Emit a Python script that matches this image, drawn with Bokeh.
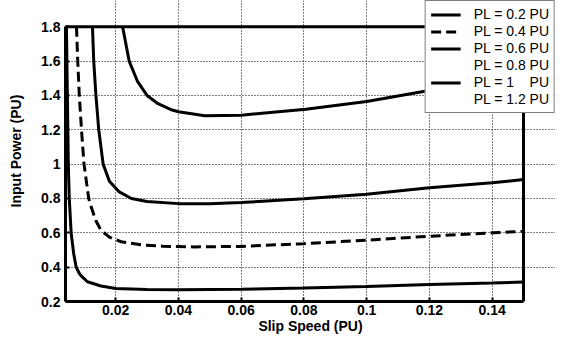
from bokeh.plotting import figure
from bokeh.models import (Legend, LegendItem, FixedTicker, CustomJSTickFormatter, Range1d,
                          BoxAnnotation)
from bokeh.embed import file_html
from bokeh.resources import INLINE

# ---- data ----
pl02_x = [0.0043, 0.0046, 0.0049, 0.0052, 0.0058, 0.0066, 0.0074, 0.0085, 0.0095, 0.011, 0.0153,
          0.02, 0.03, 0.04, 0.06, 0.08, 0.10, 0.12, 0.14, 0.15]
pl02_y = [1.80, 1.40, 1.00, 0.80, 0.60, 0.48, 0.40, 0.36, 0.34, 0.315, 0.29,
          0.276, 0.270, 0.269, 0.271, 0.278, 0.288, 0.299, 0.308, 0.313]

pl04_x = [0.0075, 0.0079, 0.0084, 0.0091, 0.0099, 0.0114, 0.0122, 0.0137, 0.0153, 0.018, 0.0217,
          0.028, 0.035, 0.045, 0.06, 0.08, 0.10, 0.12, 0.14, 0.15]
pl04_y = [1.80, 1.60, 1.40, 1.20, 1.00, 0.80, 0.75, 0.67, 0.615, 0.575, 0.548,
          0.530, 0.522, 0.518, 0.521, 0.537, 0.557, 0.580, 0.600, 0.608]

pl06_x = [0.0126, 0.0130, 0.0137, 0.0146, 0.0160, 0.018, 0.021, 0.025, 0.030, 0.040, 0.050,
          0.060, 0.080, 0.100, 0.120, 0.140, 0.150]
pl06_y = [1.80, 1.60, 1.40, 1.20, 1.00, 0.90, 0.84, 0.80, 0.782, 0.770, 0.770,
          0.776, 0.798, 0.825, 0.863, 0.891, 0.910]

pl1_x = [0.0222, 0.0243, 0.027, 0.030, 0.0335, 0.038, 0.040, 0.0484, 0.060, 0.0806, 0.100,
         0.119, 0.135, 0.150]
pl1_y = [1.80, 1.60, 1.48, 1.40, 1.352, 1.315, 1.305, 1.282, 1.285, 1.320, 1.365,
         1.426, 1.475, 1.520]

legend_labels = ["PL = 0.2 PU", "PL = 0.4 PU", "PL = 0.6 PU", "PL = 0.8 PU", "PL = 1    PU", "PL = 1.2 PU"]
x_ticks = [0.02, 0.04, 0.06, 0.08, 0.10, 0.12, 0.14]
y_ticks = [0.2, 0.4, 0.6, 0.8, 1.0, 1.2, 1.4, 1.6, 1.8]

# axes box limits
X_MIN, X_MAX = 0.004, 0.15
Y_MIN, Y_MAX = 0.2, 1.8

FONT = "Liberation Sans"

# frame extends past the axes box (to the top/right) so the legend can overhang the box
p = figure(width=555, height=341, output_backend="svg", toolbar_location=None,
           x_range=Range1d(X_MIN, 0.1602), y_range=Range1d(Y_MIN, 1.953),
           min_border_left=65, min_border_right=0, min_border_top=0, min_border_bottom=40,
           background_fill_color="white", border_fill_color="white")
p.outline_line_color = None

fmt = CustomJSTickFormatter(code="return tick.toFixed(2).replace(/0+$/, '').replace(/\\.$/, '');")

for ax, ticks, bnds in ((p.xaxis[0], x_ticks, (X_MIN, X_MAX)), (p.yaxis[0], y_ticks, (Y_MIN, Y_MAX))):
    ax.ticker = FixedTicker(ticks=ticks)
    ax.formatter = fmt
    ax.bounds = bnds
    ax.axis_line_width = 3
    ax.axis_line_color = "black"
    ax.major_tick_in = 4
    ax.major_tick_out = 0
    ax.major_tick_line_width = 2
    ax.minor_tick_line_color = None
    ax.major_label_text_font = FONT
    ax.major_label_text_font_style = "bold"
    ax.major_label_text_font_size = "14px"
    ax.major_label_text_color = "black"
    ax.axis_label_text_font = FONT
    ax.axis_label_text_font_style = "bold"
    ax.axis_label_text_font_size = "14px"
    ax.axis_label_text_color = "black"

p.xaxis.axis_label = "Slip Speed (PU)"
p.yaxis.axis_label = "Input Power (PU)"
p.xaxis.major_label_standoff = 3
p.xaxis.axis_label_standoff = 0
p.yaxis.major_label_standoff = 5
p.yaxis.axis_label_standoff = 14

p.xgrid[0].ticker = FixedTicker(ticks=x_ticks)
p.ygrid[0].ticker = FixedTicker(ticks=y_ticks)
p.xgrid[0].bounds = (Y_MIN, Y_MAX)
p.ygrid[0].bounds = (X_MIN, X_MAX)
for g in (p.xgrid[0], p.ygrid[0]):
    g.grid_line_color = "black"
    g.grid_line_dash = "1 2"
    g.grid_line_width = 1
    g.grid_line_alpha = 1

# axes box
p.add_layout(BoxAnnotation(left=X_MIN, right=X_MAX, bottom=Y_MIN, top=Y_MAX,
                           fill_alpha=0, line_color="black", line_alpha=1, line_width=3,
                           level="underlay"))

r02 = p.line(pl02_x, pl02_y, line_color="black", line_width=3)
r04 = p.line(pl04_x, pl04_y, line_color="black", line_width=3, line_dash="10 5")
r06 = p.line(pl06_x, pl06_y, line_color="black", line_width=3)
r08 = p.line([], [], line_color="black", line_width=3, line_alpha=0)
r1 = p.line(pl1_x, pl1_y, line_color="black", line_width=3)
r12 = p.line([], [], line_color="black", line_width=3, line_alpha=0)

items = [LegendItem(label=lab, renderers=[r]) for lab, r in
         zip(legend_labels, [r02, r04, r06, r08, r1, r12])]
legend = Legend(items=items, location="top_right", orientation="vertical",
                label_text_font=FONT, label_text_font_size="14px", label_text_color="black",
                glyph_width=30, glyph_height=15, label_height=15, spacing=1,
                label_standoff=13, padding=5, margin=0,
                border_line_color="black", border_line_width=1,
                background_fill_color="white", background_fill_alpha=1)
p.add_layout(legend, "center")

open("out.html", "w").write(file_html(p, INLINE))
